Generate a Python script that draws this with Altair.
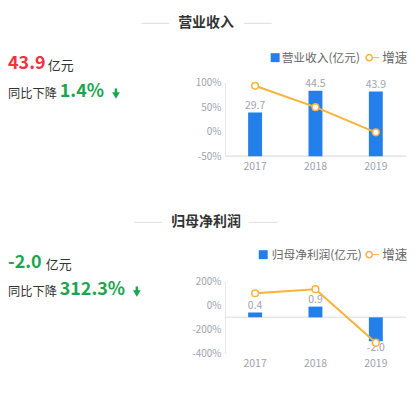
import altair as alt
import pandas as pd

years = ["2017", "2018", "2019"]
revenue = [29.7, 44.5, 43.9]
revenue_growth = [93.5, 49.8, -1.4]
profit = [0.4, 0.9, -2.0]
profit_growth = [102.0, 136.0, -312.3]
revenue_ticks = [-50, 0, 50, 100]
profit_ticks = [-400, -200, 0, 200]

BLUE = "#237fe9"
ORANGE = "#fab23a"
RED = "#f5313d"
GREEN = "#1aa64f"
GRAY = "#9fa2ae"
DARK = "#333333"
LEG = "#666666"
LINE = "#e6e6ea"
TLINE = "#dddddd"
FONT = "Noto Sans CJK SC"

one = pd.DataFrame({"k": [0]})


def txt(s, x, y, size, color, weight="normal", align="left"):
    return alt.Chart(one).mark_text(
        text=s, font=FONT, fontSize=size, color=color, fontWeight=weight,
        align=align, baseline="middle"
    ).encode(x=alt.value(x), y=alt.value(y))


def hrule(x1, x2, y, color, opacity=1.0):
    return alt.Chart(one).mark_rule(color=color, strokeWidth=1, strokeOpacity=opacity).encode(
        x=alt.value(x1), x2=alt.value(x2), y=alt.value(y))


def arrow(x, y):
    stem = alt.Chart(one).mark_rule(color=GREEN, strokeWidth=2.5).encode(
        x=alt.value(x), y=alt.value(y - 5.5), y2=alt.value(y + 1))
    head = alt.Chart(one).mark_point(shape="triangle-down", filled=True, color=GREEN,
                                     size=60, opacity=1).encode(
        x=alt.value(x), y=alt.value(y + 1.5))
    return [stem, head]


def section(bars, growth, ticks, bar_domain, growth_domain, height, title,
            tl, tr, kpi, kpi_color, unit_x, change, change_x, arrow_x, kpi_y, chg_y,
            leg_label, sq_x, leg_x, leg_y, anchors):
    df = pd.DataFrame({"year": years, "bar": bars, "growth": growth,
                       "label": [f"{v:.1f}" for v in bars]})
    base = alt.Chart(df)
    xenc = alt.X("year:N", title=None,
                 scale=alt.Scale(paddingInner=0, paddingOuter=0),
                 axis=alt.Axis(domain=False, ticks=False, labelAngle=0, labelColor=GRAY,
                               labelFontSize=10.5, labelPadding=5, labelFont=FONT))
    ybar = alt.Y("bar:Q", scale=alt.Scale(domain=bar_domain, nice=False, zero=True), axis=None)
    zero = base.transform_calculate(z="0").mark_rule(color=LINE, strokeWidth=1).encode(
        y=alt.Y("z:Q", axis=None))
    bar_m = base.mark_bar(size=14, color=BLUE).encode(x=xenc, y=ybar)
    lab_pos = base.transform_filter("datum.bar >= 0").mark_text(
        font=FONT, fontSize=10.5, color=GRAY, baseline="alphabetic", dy=-3.5
    ).encode(x=xenc, y=ybar, text="label:N")
    lab_neg = base.transform_filter("datum.bar < 0").mark_text(
        font=FONT, fontSize=10.5, color=GRAY, baseline="alphabetic", dy=9.5
    ).encode(x=xenc, y=ybar, text="label:N")

    ann = [hrule(-218, -213, ay, "white", 0) for ay in anchors]
    ann += [
        txt(title, -19, -59.5, 14, DARK, "bold", "center"),
        hrule(tl[0], tl[1], -59.5, TLINE),
        hrule(tr[0], tr[1], -59.5, TLINE),
        txt(kpi, -218, kpi_y, 18, kpi_color, "bold"),
        txt("亿元", unit_x, kpi_y + 2, 13, DARK),
        txt("同比下降", -218, chg_y + 2, 12.3, DARK),
        txt(change, change_x, chg_y, 18, GREEN, "bold"),
        *arrow(arrow_x, chg_y + 2),
        alt.Chart(one).mark_point(shape="square", filled=True, color=BLUE, size=81, opacity=1).encode(
            x=alt.value(sq_x + 4.5), y=alt.value(leg_y)),
        txt(leg_label, leg_x, leg_y, 11.8, LEG),
        hrule(145, 155, leg_y, ORANGE),
        alt.Chart(one).mark_point(shape="circle", filled=True, fill="white", stroke=ORANGE,
                                  strokeWidth=1.5, size=40, opacity=1).encode(
            x=alt.value(145), y=alt.value(leg_y)),
        txt("增速", 158, leg_y, 12.6, LEG),
    ]
    bar_layer = alt.layer(zero, bar_m, lab_pos, lab_neg, *ann)

    yg = alt.Y("growth:Q", scale=alt.Scale(domain=growth_domain, nice=False, zero=False),
               axis=alt.Axis(orient="left", values=ticks, labelExpr="datum.value + '%'",
                             grid=False, ticks=False, domain=True, domainColor=LINE,
                             labelColor=GRAY, labelFontSize=10, labelPadding=4,
                             labelFont=FONT, title=None))
    line = base.mark_line(color=ORANGE, strokeWidth=2).encode(x=xenc, y=yg)
    pts = base.mark_point(shape="circle", filled=True, fill="white", stroke=ORANGE,
                          strokeWidth=1.5, size=45, opacity=1).encode(x=xenc, y=yg)
    line_layer = alt.layer(line, pts)

    ch = alt.layer(bar_layer, line_layer).resolve_scale(y="independent").properties(
        width=182, height=height)
    return ch


top = section(revenue, revenue_growth, revenue_ticks, [0, 50], [-50, 100], 74, "营业收入",
              (-84, -56), (19, 47), "43.9", RED, -178, "1.4%", -166, -109.5, -18.5, 9.5,
              "营业收入(亿元)", 46, 57, -25, [-73.5, 104.5])
bottom = section(profit, profit_growth, profit_ticks, [-3, 3], [-400, 200], 72, "归母净利润",
                 (-91, -63), (24, 53), "-2.0", GREEN, -180, "312.3%", -166, -88.5, -18.5, 8.5,
                 "归母净利润(亿元)", 34, 47, -27, [-80.5])

chart = alt.vconcat(top, bottom, spacing=14).configure_view(
    stroke=None).properties(padding=0, background="white")

chart.save("out.html", embed_options={"renderer": "svg", "actions": False})
